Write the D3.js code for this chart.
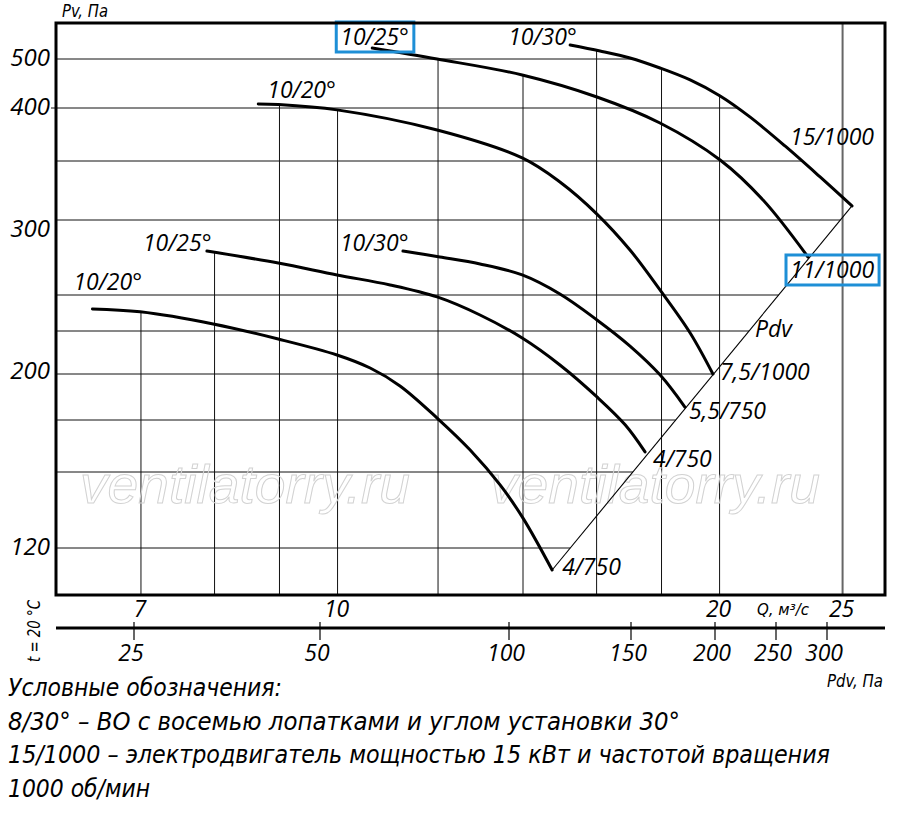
<!DOCTYPE html>
<html lang="ru">
<head>
<meta charset="UTF-8">
<title>Характеристика ВО</title>
<script src="https://cdn.jsdelivr.net/npm/d3@7"></script>
<style>
  body { margin: 0; background: #fff; }
  svg { display: block; }
  text { font-family: "Open Sans", "Noto Sans", sans-serif; font-style: italic; fill: #000; }
  .narrow { font-family: "Liberation Sans Narrow", "DejaVu Sans Condensed", "Roboto", "Liberation Sans", sans-serif; }
  .grid { stroke: #111; stroke-width: 1; }
  .curve { fill: none; stroke: #000; stroke-width: 3; stroke-linecap: round; }
  .wm { font-family: "Liberation Sans", Arial, sans-serif; fill: none; stroke: #d2d2d2; stroke-width: 1; }
</style>
</head>
<body>
<script>
// grid / ticks
const qGrid = [7, 8, 9, 10, 12, 14, 16, 18, 20]
const qFull = 25
const qTicks = [7, 10, 20, 25]
const pvGrid = [120, 150, 175, 200, 225, 250, 300, 350, 400, 500]
const pvTicks = [500, 400, 300, 200, 120]
const pdvTicks = [25, 50, 100, 150, 200, 250, 300]

// characteristics, [Q m3/s, Pv Pa]
const angles = ['10/20°', '10/25°', '10/30°', '10/20°', '10/25°', '10/30°']
const motors = ['4/750', '4/750', '5,5/750', '7,5/1000', '11/1000', '15/1000']
const c1 = [[6.41, 240], [6.99, 238], [7.98, 229.7], [8.98, 220.1], [9.99, 210.7], [10.61, 203.3], [11.2, 193.2], [11.98, 176], [12.72, 160.1], [13.43, 144.4], [14.0, 131], [14.76, 112.5]]
const c2 = [[7.89, 278.2], [8.98, 270.2], [9.99, 262.5], [11.0, 256.2], [11.98, 248.6], [12.95, 235.8], [13.98, 220.7], [14.97, 205], [16.01, 187.1], [16.85, 172.5], [17.47, 159.2]]
const c3 = [[11.26, 278.2], [12.04, 274.2], [12.95, 269.6], [13.98, 262.5], [14.97, 250.6], [16.01, 232.4], [17.0, 215.9], [17.95, 199.5], [18.78, 181.7]]
const c4 = [[8.66, 407.4], [8.98, 406.4], [9.99, 398.1], [11.98, 378.4], [13.98, 352.7], [14.97, 331.3], [16.01, 304.7], [17.0, 278.9], [17.95, 253.1], [18.96, 223.8], [19.76, 200]]
const c5 = [[10.65, 525.7], [11.98, 500], [13.98, 464.9], [16.01, 420.6], [17.95, 385.2], [20.02, 350.9], [21.64, 316.1], [23.48, 274.2]]
const c6 = [[15.25, 532.9], [16.1, 518.6], [17.0, 502.3], [17.95, 479.9], [18.96, 454.5], [20.02, 422.5], [21.13, 391.1], [22.52, 363.5], [24.0, 335.7], [25.43, 311.2]]
const curves = [c1, c2, c3, c4, c5, c6]
// Pdv line (ends of the characteristics)
const pdvLine = [[14.76, 112.5], [25.43, 311.2]]
const highlighted = 4

const legendLines = [
    'Условные обозначения:',
    '8/30° – ВО с восемью лопатками и углом установки 30°',
    '15/1000 – электродвигатель мощностью 15 кВт и частотой вращения',
    '1000 об/мин'
]

// layout
const frame = {left: 56, top: 23, right: 885, bottom: 595}
const angleOffset = [[-19, -19], [-64, 0], [-63, 0], [9, -6], [-32, -3], [-62, 0]]
const motorOffset = [[10, 5], [8, 15], [4, 12], [7, 6], [-18, 21], [-62, -61]]
const pvLabelDy = [7, 7, 17, 5, 7]
const legendLen = [274, 672, 822, 142]

const x = d3.scaleLog().domain([6, 27]).range([frame.left, frame.right])
// the vertical scale of the sheet is hand drawn, so calibrate it on its own grid lines
const y = d3.scaleLog().domain(pvGrid).range([548, 472, 420, 374, 331, 295, 220, 161, 108, 59])
const xPdv = d3.scaleLog().domain(pdvTicks).range([134, 320, 509, 631, 715, 776, 827])

const svg = d3.select('body').append('svg')
    .attr('width', 900)
    .attr('height', 814)

const pts = curves.map(c => c.map(d => [x(d[0]), y(d[1])]))
const dA = [x(pdvLine[0][0]), y(pdvLine[0][1])]
const dB = [x(pdvLine[1][0]), y(pdvLine[1][1])]

// upper edge of the field at px
function topAt (px) {
    let best = null
    pts.forEach(p => {
        for (let i = 0; i < p.length - 1; i++) {
            if (px >= p[i][0] && px <= p[i + 1][0]) {
                const t = (px - p[i][0]) / (p[i + 1][0] - p[i][0])
                const yy = p[i][1] + t * (p[i + 1][1] - p[i][1])
                best = best === null ? yy : Math.min(best, yy)
            }
        }
    })
    return best === null ? frame.top : best
}
// right edge of the field at py
function rightAt (py) {
    if (py >= dB[1]) return dA[0] + (dA[1] - py) * (dB[0] - dA[0]) / (dA[1] - dB[1])
    let best = frame.left
    pts.forEach(p => {
        for (let i = 0; i < p.length - 1; i++) {
            if (py >= p[i][1] && py <= p[i + 1][1]) {
                const t = (py - p[i][1]) / (p[i + 1][1] - p[i][1])
                best = Math.max(best, p[i][0] + t * (p[i + 1][0] - p[i][0]))
            }
        }
    })
    return best
}

const gridG = svg.append('g')
gridG.selectAll('line.h')
    .data(pvGrid)
    .join('line')
    .attr('class', 'grid h')
    .attr('x1', frame.left)
    .attr('x2', d => rightAt(y(d)))
    .attr('y1', d => y(d))
    .attr('y2', d => y(d))
gridG.selectAll('line.v')
    .data(qGrid)
    .join('line')
    .attr('class', 'grid v')
    .attr('x1', d => x(d))
    .attr('x2', d => x(d))
    .attr('y1', d => topAt(x(d)))
    .attr('y2', frame.bottom)
gridG.append('line')
    .attr('x1', x(qFull)).attr('x2', x(qFull))
    .attr('y1', frame.top).attr('y2', frame.bottom)
    .attr('stroke', '#666').attr('stroke-width', 2)
// short tick at 400
gridG.append('line')
    .attr('class', 'grid')
    .attr('x1', frame.left - 5).attr('x2', frame.left)
    .attr('y1', y(400)).attr('y2', y(400))

// watermark
svg.selectAll('text.wm')
    .data([80, 490])
    .join('text')
    .attr('class', 'wm')
    .attr('x', d => d)
    .attr('y', 503)
    .attr('font-size', 54)
    .attr('textLength', 330)
    .attr('lengthAdjust', 'spacingAndGlyphs')
    .text('ventilatorry.ru')

// Pdv line
svg.append('line')
    .attr('x1', dA[0]).attr('y1', dA[1])
    .attr('x2', dB[0]).attr('y2', dB[1])
    .attr('stroke', '#000').attr('stroke-width', 1.1)
const pdvAt = d3.interpolate(dA, dB)(0.64)
svg.append('text')
    .attr('x', pdvAt[0] + 11)
    .attr('y', pdvAt[1])
    .attr('font-size', 23)
    .text('Pdv')

const line = d3.line()
    .x(d => x(d[0]))
    .y(d => y(d[1]))
    .curve(d3.curveCatmullRom.alpha(0.5))
svg.selectAll('path.curve')
    .data(curves)
    .join('path')
    .attr('class', 'curve')
    .attr('d', line)

function boxed (sel) {
    const w = sel.node().getComputedTextLength()
    const tx = +sel.attr('x'), ty = +sel.attr('y')
    svg.append('rect')
        .attr('x', tx - 4).attr('y', ty - 23)
        .attr('width', w + 9).attr('height', 30)
        .attr('fill', 'none')
        .attr('stroke', '#1e8fd6')
        .attr('stroke-width', 3)
}

curves.forEach((c, i) => {
    const s = c[0], e = c[c.length - 1]
    const a = svg.append('text')
        .attr('x', x(s[0]) + angleOffset[i][0])
        .attr('y', y(s[1]) + angleOffset[i][1])
        .attr('font-size', 23)
        .text(angles[i])
    const m = svg.append('text')
        .attr('x', x(e[0]) + motorOffset[i][0])
        .attr('y', y(e[1]) + motorOffset[i][1])
        .attr('font-size', 23)
        .text(motors[i])
    if (i === highlighted) {
        boxed(a)
        boxed(m)
    }
})

// frame
svg.append('rect')
    .attr('x', frame.left).attr('y', frame.top)
    .attr('width', frame.right - frame.left)
    .attr('height', frame.bottom - frame.top)
    .attr('fill', 'none')
    .attr('stroke', '#000')
    .attr('stroke-width', 3)

// Pv labels
svg.selectAll('text.yl')
    .data(pvTicks)
    .join('text')
    .attr('class', 'yl')
    .attr('x', 50)
    .attr('y', (d, i) => y(d) + pvLabelDy[i])
    .attr('text-anchor', 'end')
    .attr('font-size', 24)
    .text(d => d)
svg.append('text')
    .attr('class', 'narrow')
    .attr('x', 62).attr('y', 17)
    .attr('font-size', 17)
    .attr('textLength', 46)
    .attr('lengthAdjust', 'spacingAndGlyphs')
    .text('Pv, Па')

// Q labels
svg.selectAll('text.xl')
    .data(qTicks)
    .join('text')
    .attr('class', 'xl')
    .attr('x', d => x(d) - 1)
    .attr('y', 617)
    .attr('text-anchor', 'middle')
    .attr('font-size', 23)
    .text(d => d)
svg.append('text')
    .attr('class', 'narrow')
    .attr('x', 757).attr('y', 615)
    .attr('font-size', 15)
    .attr('textLength', 52)
    .attr('lengthAdjust', 'spacingAndGlyphs')
    .text('Q, м³/с')

// Pdv axis
svg.append('line')
    .attr('x1', frame.left).attr('x2', frame.right)
    .attr('y1', 628).attr('y2', 628)
    .attr('stroke', '#000').attr('stroke-width', 3)
svg.selectAll('line.pt')
    .data(pdvTicks)
    .join('line')
    .attr('class', 'pt')
    .attr('x1', d => xPdv(d)).attr('x2', d => xPdv(d))
    .attr('y1', 622).attr('y2', 640)
    .attr('stroke', '#000').attr('stroke-width', 1.2)
svg.selectAll('text.pl')
    .data(pdvTicks)
    .join('text')
    .attr('class', 'pl')
    .attr('x', d => xPdv(d) - 3)
    .attr('y', 661)
    .attr('text-anchor', 'middle')
    .attr('font-size', 23)
    .text(d => d)
svg.append('text')
    .attr('class', 'narrow')
    .attr('x', 827).attr('y', 687)
    .attr('font-size', 17)
    .attr('textLength', 56)
    .attr('lengthAdjust', 'spacingAndGlyphs')
    .text('Pdv, Па')
svg.append('text')
    .attr('class', 'narrow')
    .attr('transform', 'translate(40,662) rotate(-90)')
    .attr('font-size', 17)
    .attr('textLength', 62)
    .attr('lengthAdjust', 'spacingAndGlyphs')
    .text('t = 20 °C')

// legend
svg.selectAll('text.lg')
    .data(legendLines)
    .join('text')
    .attr('class', 'lg narrow')
    .attr('x', 8)
    .attr('y', (d, i) => 696 + i * 33.7)
    .attr('font-size', 25)
    .attr('textLength', (d, i) => legendLen[i])
    .attr('lengthAdjust', 'spacingAndGlyphs')
    .text(d => d)
</script>
</body>
</html>
